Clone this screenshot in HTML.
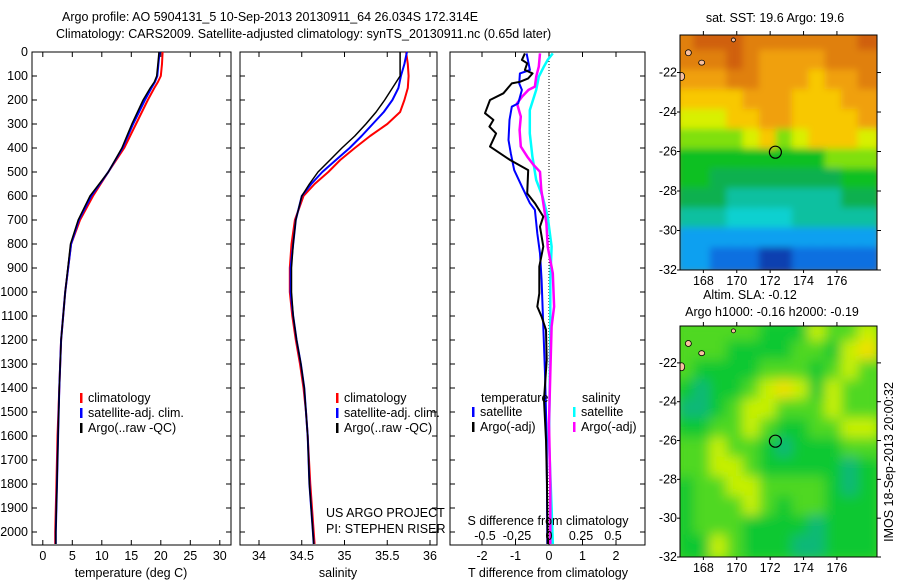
<!DOCTYPE html>
<html><head><meta charset="utf-8"><style>
html,body{margin:0;padding:0;background:#fff;}
svg{display:block;font-family:"Liberation Sans",sans-serif;}
text{font-size:12.5px;fill:#000;}
</style></head><body>
<svg id="chart" width="900" height="580" viewBox="0 0 900 580">
<defs>
<clipPath id="clipM1"><rect x="680" y="35" width="197" height="235"/></clipPath>
<clipPath id="clipM2"><rect x="680" y="326" width="197" height="231"/></clipPath>
<filter id="blur1" x="-5%" y="-5%" width="110%" height="110%"><feGaussianBlur stdDeviation="3.5"/></filter>
<filter id="blur2" x="-5%" y="-5%" width="110%" height="110%"><feGaussianBlur stdDeviation="6"/></filter>
</defs>
<text x="62" y="21">Argo profile: AO 5904131_5 10-Sep-2013 20130911_64 26.034S 172.314E</text>
<text x="56" y="38">Climatology: CARS2009. Satellite-adjusted climatology: synTS_20130911.nc (0.65d later)</text>
<g id="g"></g>
</svg>
<script>
// ---------- data ----------
const depthsT = [0,50,100,125,150,200,300,400,500,600,700,800,1000,1200,1400,1600,1800,2000,2050];
const tempClim = [20.3,20.2,20.0,19.5,18.9,17.8,15.8,13.8,11.1,8.5,6.3,4.8,3.8,3.1,2.8,2.5,2.3,2.1,2.1];
const tempSat  = [19.8,19.6,19.4,19.0,18.4,17.3,15.3,13.5,11.1,8.2,6.1,4.8,3.8,3.1,2.8,2.6,2.4,2.2,2.2];
const tempArgo = [19.7,19.5,19.3,18.9,18.2,17.0,15.1,13.4,11.1,8.0,6.0,4.7,3.8,3.1,2.8,2.6,2.4,2.2,2.2];
const depthsS = [0,50,100,150,200,250,300,350,400,450,500,550,600,700,800,900,1000,1100,1200,1300,1400,1500,1600,1800,2000,2050];
const salClim = [35.72,35.74,35.75,35.74,35.70,35.65,35.50,35.30,35.12,34.95,34.81,34.65,34.52,34.42,34.38,34.36,34.36,34.39,34.43,34.48,34.52,34.55,34.57,34.6,34.64,34.65];
const salSat  = [35.73,35.70,35.66,35.63,35.56,35.46,35.33,35.20,35.06,34.90,34.74,34.61,34.50,34.43,34.40,34.37,34.37,34.40,34.44,34.49,34.53,34.55,34.57,34.59,34.63,34.64];
const salArgo = [35.65,35.65,35.65,35.56,35.47,35.37,35.25,35.12,34.97,34.83,34.69,34.59,34.50,34.43,34.40,34.38,34.38,34.40,34.44,34.49,34.53,34.55,34.57,34.59,34.63,34.64];
const dTdepth = [6,33,47,75,89,110,124,131,172,200,255,283,311,339,394,450,492,589,630,686,728,811,894,1006,1061,1103,1158,1283,1450,1617,1800,2050];
const dTargo  = [-0.72,-0.81,-0.65,-0.72,-0.49,-0.62,-0.87,-1.11,-1.36,-1.76,-1.91,-1.66,-1.78,-1.58,-1.76,-1.16,-0.62,-0.65,-0.42,-0.17,-0.27,-0.17,-0.29,-0.29,-0.35,-0.22,-0.09,-0.07,-0.15,-0.09,-0.06,-0.04];
const dTsatDepth = [6,75,89,131,158,214,228,283,367,422,492,561,630,658,756,839,950,1144,1339,1617,1850,2050];
const dTsat   = [-0.67,-0.57,-0.87,-0.89,-0.81,-0.92,-1.11,-1.18,-1.21,-1.14,-1.04,-0.81,-0.57,-0.42,-0.35,-0.27,-0.22,-0.17,-0.12,-0.07,-0.06,-0.05];
const dSargoDepth = [6,61,103,144,158,186,214,269,325,394,436,471,499,575,714,811,922,1061,1144,1339,1547,1800,2050];
const dSargo  = [-0.07,-0.08,-0.10,-0.11,-0.16,-0.21,-0.25,-0.22,-0.23,-0.22,-0.17,-0.12,-0.07,-0.06,-0.02,-0.01,0.03,0.04,0.02,0.01,0.0,0.01,0.01];
const dSsatDepth = [6,33,61,103,158,242,339,436,533,603,686,811,950,1200,1617,1900,2050];
const dSsat   = [0.03,-0.01,-0.04,-0.08,-0.10,-0.15,-0.15,-0.13,-0.10,-0.05,-0.01,0.02,0.01,0.01,0.0,0.02,0.03];
const depthTicks = [0,100,200,300,400,500,600,700,800,900,1000,1100,1200,1300,1400,1500,1600,1700,1800,1900,2000];
const tempTicks = [0,5,10,15,20,25,30];
const salTicks = [34,34.5,35,35.5,36];
const salTickLabels = ["34","34.5","35","35.5","36"];
const dTTicks = [-2,-1,0,1,2];
const dSTicks = [-0.5,-0.25,0,0.25,0.5];
const dSTickLabels = ["-0.5","-0.25","0","0.25","0.5"];
const latTicks = [-22,-24,-26,-28,-30,-32];
const lonTicks = [168,170,172,174,176];
const argoLon = 172.314, argoLat = -26.034;
const sstGrid = [
[2,1,1,1,2,2,2,2,2,2,2,1],
[2,2,2,1,2,3,3,3,3,2,2,2],
[3,3,3,2,2,3,3,3,4,3,3,2],
[4,4,4,4,3,3,3,4,4,4,3,3],
[5,5,5,4,4,3,3,4,4,4,4,3],
[6,6,6,6,5,4,6,5,4,4,4,5],
[7,7,7,7,7,7,7,7,7,6,6,6],
[7,7,8,8,8,8,8,8,8,8,7,7],
[8,8,8,9,9,9,9,9,9,9,8,8],
[9,9,9,10,10,10,10,9,9,9,9,9],
[11,11,11,11,11,11,11,11,11,11,11,11],
[11,11,12,12,12,13,13,12,12,12,12,12]];
const sstColors = ["#c04010","#d06010","#e08010","#f0a010","#f8c800","#d8f000","#80e010","#10c020","#10b050","#10c0a0","#10d0d0","#10a0f0","#1070e0","#1040b0"];
const slaGrid = [
[2,2,2,2,2,3,3,3,1,2,2,1],
[2,2,2,3,3,3,3,2,2,3,1,0],
[2,3,3,3,3,2,2,2,3,2,1,2],
[3,4,3,3,2,1,0,1,3,1,2,2],
[4,4,3,2,1,1,2,2,2,1,2,2],
[3,3,2,2,1,2,3,3,2,2,1,1],
[2,2,1,2,2,3,4,3,3,3,2,2],
[2,2,1,1,2,3,3,3,3,3,4,3],
[3,2,2,1,1,2,2,2,2,3,4,3],
[3,2,2,2,1,2,3,2,2,3,3,3],
[3,2,2,2,3,3,3,3,4,3,3,3],
[3,3,1,2,3,3,3,4,4,3,3,3]];
const slaColors = ["#f0e000","#c8f000","#50d820","#10c830","#10b878","#10c0a0"];

// ---------- helpers ----------
const NS="http://www.w3.org/2000/svg";
const G=document.getElementById('g');
function mk(tag,attrs,parent){const e=document.createElementNS(NS,tag);for(const k in attrs)e.setAttribute(k,attrs[k]);(parent||G).appendChild(e);return e;}
const TOP=52, BOT=545;
const yD = d => TOP + d*0.24;
const panels = {
 t:{x0:32,x1:231,f:v=>42.8+5.9*v},
 s:{x0:240,x1:437,f:v=>259+85.5*(v-34)},
 d:{x0:450,x1:645,f:v=>549+33.5*v, fs:v=>549+128*v}
};
function frame(p,name){
  const r=mk('rect',{x:p.x0,y:TOP,width:p.x1-p.x0,height:BOT-TOP,fill:'none',stroke:'#000','stroke-width':1});
  
  
  depthTicks.forEach(d=>{mk('line',{x1:p.x0,x2:p.x0+5,y1:yD(d),y2:yD(d),stroke:'#000'});mk('line',{x1:p.x1,x2:p.x1-5,y1:yD(d),y2:yD(d),stroke:'#000'});});
}
function xticks(p,vals,labels,f,yl){
  vals.forEach((v,i)=>{const x=f(v);
    mk('line',{x1:x,x2:x,y1:BOT,y2:BOT-5,stroke:'#000'});mk('line',{x1:x,x2:x,y1:TOP,y2:TOP+5,stroke:'#000'});
    const t=mk('text',{x:x,y:yl,'text-anchor':'middle'});t.textContent=labels[i];
    
    });
}
function line(xs,ds,f,color,w,name){
  const pts=xs.map((v,i)=>f(v).toFixed(1)+','+yD(ds[i]).toFixed(1)).join(' ');
  const l=mk('polyline',{points:pts,fill:'none',stroke:color,'stroke-width':w,'stroke-linejoin':'round'});
  
  
}
function txt(x,y,s,name,anchor){const t=mk('text',{x:x,y:y,'text-anchor':anchor||'start'});t.textContent=s;
  
  return t;}
function legend(x,y,items,name){
  items.forEach((it,i)=>{
    mk('rect',{x:x,y:y+i*15-9,width:2.5,height:10,fill:it[1]});
    txt(x+8,y+i*15,it[0],name);
  });
}

depthTicks.forEach(d=>{txt(28,yD(d)+4,String(d),'depth-tick-label','end');});

frame(panels.t,'temperature-panel');
xticks(panels.t,tempTicks,tempTicks.map(String),panels.t.f,560);
line(tempClim,depthsT,panels.t.f,'#ff0000',2,'temp-climatology-line');
line(tempSat,depthsT,panels.t.f,'#0000ff',2,'temp-satellite-line');
line(tempArgo,depthsT,panels.t.f,'#000000',1.5,'temp-argo-line');
txt(131,577,'temperature (deg C)','x-axis-title-temperature','middle');
legend(80,402,[['climatology','#ff0000'],['satellite-adj. clim.','#0000ff'],['Argo(..raw -QC)','#000']],'legend-entry');

frame(panels.s,'salinity-panel');
xticks(panels.s,salTicks,salTickLabels,panels.s.f,560);
line(salClim,depthsS,panels.s.f,'#ff0000',2,'sal-climatology-line');
line(salSat,depthsS,panels.s.f,'#0000ff',2,'sal-satellite-line');
line(salArgo,depthsS,panels.s.f,'#000000',1.5,'sal-argo-line');
txt(338,577,'salinity','x-axis-title-salinity','middle');
legend(336,402,[['climatology','#ff0000'],['satellite-adj. clim.','#0000ff'],['Argo(..raw -QC)','#000']],'legend-entry');
txt(326,517,'US ARGO PROJECT','project-credit');
txt(326,533,'PI: STEPHEN RISER','pi-credit');

frame(panels.d,'difference-panel');
xticks(panels.d,dTTicks,dTTicks.map(String),panels.d.f,560);
mk('line',{x1:549,x2:549,y1:TOP,y2:BOT,stroke:'#000','stroke-dasharray':'1,2'});
line(dSsat,dSsatDepth,panels.d.fs,'#00ffff',2.5,'sal-diff-satellite-line');
line(dSargo,dSargoDepth,panels.d.fs,'#ff00ff',2.5,'sal-diff-argo-line');
line(dTsat,dTsatDepth,panels.d.f,'#0000ff',2,'temp-diff-satellite-line');
line(dTargo,dTdepth,panels.d.f,'#000000',2,'temp-diff-argo-line');
dSTicks.forEach((v,i)=>{txt(panels.d.fs(v),540,dSTickLabels[i],'s-diff-tick-label','middle');});
txt(548,525,'S difference from climatology','s-axis-title','middle');
txt(548,577,'T difference from climatology','t-axis-title','middle');
txt(481,402,'temperature','legend-heading');
txt(582,402,'salinity','legend-heading');
legend(472,416,[['satellite','#0000ff'],['Argo(-adj)','#000']],'legend-entry');
legend(573,416,[['satellite','#00ffff'],['Argo(-adj)','#ff00ff']],'legend-entry');

function map(x0,y0,h,lat0,grid,colors,clip,filt,name,yl){
  const w=197, lon0=166.6, lonPx=w/11.8, latPx=h/(lat0+32);
  const fx=lon=>x0+(lon-lon0)*lonPx, fy=lat=>y0+(lat0-lat)*latPx;
  const g=mk('g',{'clip-path':'url(#'+clip+')'});
  
  
  mk('rect',{x:x0,y:y0,width:w,height:h,fill:colors[grid[0][0]]},g);
  const gi=mk('g',{filter:'url(#'+filt+')'},g);
  const rows=grid.length, cols=grid[0].length;
  grid.forEach((row,r)=>row.forEach((v,c)=>{
    const la=-20-r*(12/rows), lo=lon0+c*(11.8/cols);
    const cell=mk('rect',{x:fx(lo)-3,y:fy(la)-3,width:lonPx*11.8/cols+6,height:latPx*12/rows+6,fill:colors[v]},gi);
    
  }));
  [[167.1,-21.0,3,3],[167.9,-21.5,3,2.5],[166.7,-22.2,3,4],[169.8,-20.35,2,2]].forEach(p=>mk('ellipse',{cx:fx(p[0]),cy:fy(p[1]),rx:p[2],ry:p[3],fill:'#f8c0a0',stroke:'#000','stroke-width':0.8},g));
  mk('rect',{x:x0,y:y0,width:w,height:h,fill:'none',stroke:'#000'});
  const c=mk('circle',{cx:fx(argoLon),cy:fy(argoLat),r:6,fill:'none',stroke:'#000','stroke-width':1.2});
  
  
  latTicks.forEach(la=>{const y=fy(la);mk('line',{x1:x0+w,x2:x0+w+4,y1:y,y2:y,stroke:'#000'});mk('line',{x1:x0,x2:x0-3,y1:y,y2:y,stroke:'#000'});txt(677,y+4,String(la),'lat-tick-label','end');});
  lonTicks.forEach(lo=>{const x=fx(lo);mk('line',{x1:x,x2:x,y1:y0,y2:y0-4,stroke:'#000'});mk('line',{x1:x,x2:x,y1:y0+h,y2:y0+h+3,stroke:'#000'});txt(x,yl,String(lo),'lon-tick-label','middle');});
}
map(680,35,235,-20.1,sstGrid,sstColors,'clipM1','blur1','sst-map',285);
map(680,326,231,-20.1,slaGrid,slaColors,'clipM2','blur2','sla-map',572);
txt(775,22,'sat. SST: 19.6 Argo: 19.6','sst-map-title','middle');
txt(750,299,'Altim. SLA: -0.12','sla-map-title','middle');
txt(772,316,'Argo h1000: -0.16 h2000: -0.19','sla-map-subtitle','middle');
const r=txt(0,0,'IMOS 18-Sep-2013 20:00:32','timestamp-label','middle');
r.setAttribute('transform','translate(893,462) rotate(-90)');
</script>
</body></html>
